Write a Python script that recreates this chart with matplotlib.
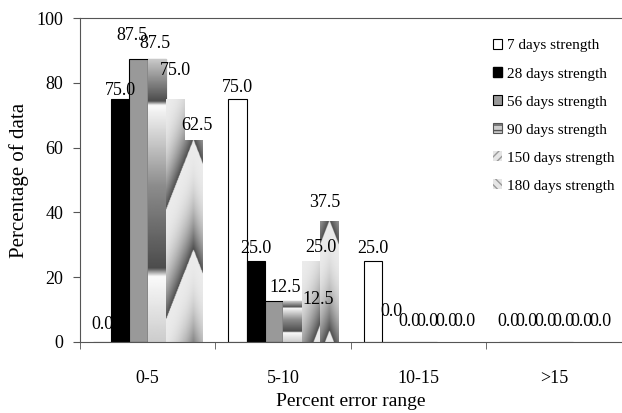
import numpy as np
import matplotlib
matplotlib.use('Agg')
import matplotlib.pyplot as plt
from matplotlib.patches import Patch

plt.rcParams['font.family'] = ['Liberation Serif', 'DejaVu Serif']

# 数据
ranges = ['0-5', '5-10', '10-15', '>15']
series = ['7 days strength', '28 days strength', '56 days strength',
          '90 days strength', '150 days strength', '180 days strength']
d7 = [0.0, 75.0, 25.0, 0.0]
d28 = [75.0, 25.0, 0.0, 0.0]
d56 = [87.5, 12.5, 0.0, 0.0]
d90 = [87.5, 12.5, 0.0, 0.0]
d150 = [75.0, 25.0, 0.0, 0.0]
d180 = [62.5, 37.5, 0.0, 0.0]
values = [d7, d28, d56, d90, d150, d180]

fig = plt.figure(figsize=(6.22, 4.13), dpi=100)
ax = fig.add_axes([0.1286, 0.172, 0.8714, 0.784])

x = np.arange(len(ranges))
w = 0.135
faces = ['white', 'black', '#999999', '#d9d9d9', '#dddddd', '#dddddd']
edges = ['black', 'black', 'black', 'black', 'none', 'none']

PX_X = 542 / 4.0    # 像素/组
PX_Y = 324 / 100.0  # 像素/百分比

# 数值标签偏移 (像素: dx, dy)，默认在柱顶上方 13px
label_shift = {(0, 0): (0, 17), (1, 0): (0, 9), (2, 0): (-7, 23),
               (3, 0): (-2, 15), (4, 0): (0, 29), (5, 0): (3, 14),
               (0, 1): (0, 12), (2, 1): (11, 14), (3, 1): (26, 2),
               (4, 1): (10, 14), (5, 1): (-4, 18),
               (1, 2): (0, 30)}


def pattern(kind, bw, bh, nx=40, ny=300):
    u = np.linspace(0, 1, nx)
    t = np.linspace(0, 1, ny)          # 从顶部向下
    U, T = np.meshgrid(u, t)
    xp = U * bw * PX_X
    dp = T * bh * PX_Y
    if kind == 'h':
        stops = [0, 0.15, 0.165, 0.45, 0.74, 0.77, 1.0]
        vals = [0.8, 0.3, 0.98, 0.55, 0.3, 0.98, 0.8]
        return np.interp(T, stops, vals)
    if kind == 'd':
        ph = np.mod((dp + 2.6 * xp) / 110.0, 1.0)
    else:
        ph = np.mod((dp - 2.6 * np.abs(xp - bw * PX_X / 2)) / 110.0, 1.0)
    return 0.92 - 0.62 * ph ** 2.5


kinds = {3: 'h', 4: 'd', 5: 'c'}
for i, (vals, name) in enumerate(zip(values, series)):
    pos = x - 2.5 * w + i * w
    bars = ax.bar(pos, vals, w, color=faces[i], edgecolor=edges[i],
                  linewidth=0.8, zorder=2, label=name)
    if i in kinds:
        for b in bars:
            h = b.get_height()
            if h <= 0:
                continue
            bx = b.get_x()
            img = pattern(kinds[i], w, h)
            im = ax.imshow(img, cmap='gray', vmin=0, vmax=1, aspect='auto',
                           extent=[bx, bx + w, 0, h], origin='upper',
                           interpolation='bilinear', zorder=2.5)
            im.set_clip_path(b)
    for j, (p, v) in enumerate(zip(pos, vals)):
        dx, dy = label_shift.get((i, j), (0, 13 if v > 0 else 20))
        ax.annotate(f'{v:.1f}', (p, v), xytext=(dx * 0.72, dy * 0.72),
                    textcoords='offset points', ha='center', va='center',
                    fontsize=13, zorder=4)

ax.set_xlim(-0.5, 3.5)
ax.set_ylim(0, 100)
ax.set_yticks(range(0, 101, 20))
ax.set_xticks(x)
ax.set_xticklabels(ranges)
ax.set_xticks(np.arange(-0.5, 4.0, 1.0), minor=True)
ax.tick_params(axis='x', which='major', length=0, pad=20, labelsize=13)
ax.tick_params(axis='x', which='minor', length=5, direction='out', color='#555555')
ax.tick_params(axis='y', length=5, direction='out', labelsize=13, pad=7,
               color='#555555')
ax.spines['right'].set_visible(False)
for s in ['left', 'bottom', 'top']:
    ax.spines[s].set_color('#555555')
ax.set_xlabel('Percent error range', fontsize=14)
ax.set_ylabel('Percentage of data', fontsize=15)
ax.xaxis.set_label_coords(0.5, -0.157)
ax.yaxis.set_label_coords(-0.094, 0.5)

handles = [Patch(facecolor='white', edgecolor='black', linewidth=0.8),
           Patch(facecolor='black', edgecolor='black'),
           Patch(facecolor='#999999', edgecolor='black', linewidth=0.8),
           Patch(facecolor='#cccccc', edgecolor='#555555', hatch='---', linewidth=0.8),
           Patch(facecolor='#e5e5e5', edgecolor='#999999', hatch='////', linewidth=0),
           Patch(facecolor='#e5e5e5', edgecolor='#999999', hatch='\\\\\\\\', linewidth=0)]
ax.legend(handles, series, loc='upper left', bbox_to_anchor=(0.762, 0.935),
          frameon=False, fontsize=11, labelspacing=0.97, handlelength=0.6,
          handleheight=0.6, handletextpad=0.3, borderpad=0, borderaxespad=0)

plt.savefig('out.png', dpi=100)
